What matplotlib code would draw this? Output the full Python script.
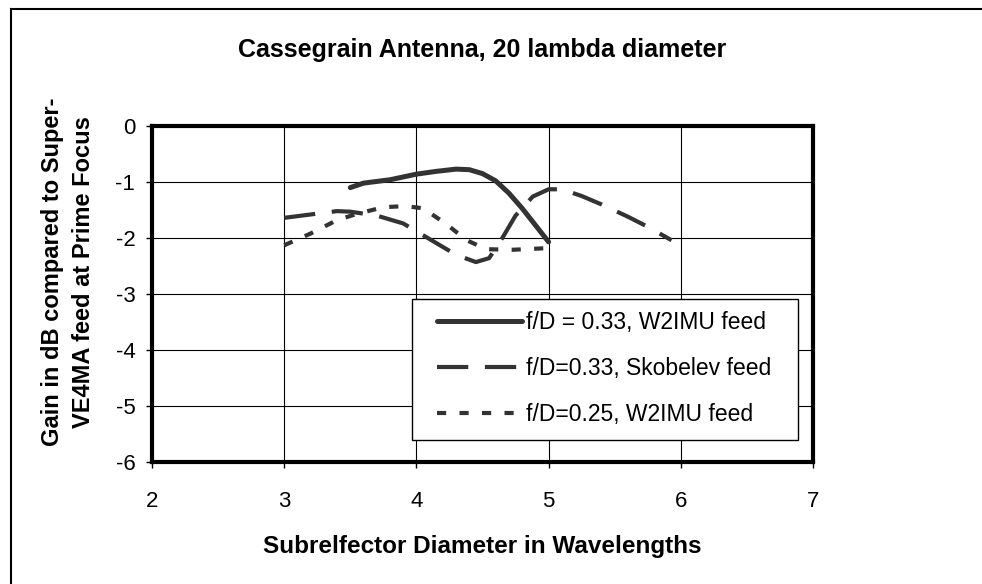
import matplotlib
matplotlib.use("Agg")
import matplotlib.pyplot as plt
from matplotlib.lines import Line2D
from matplotlib.patches import Rectangle

plt.rcParams['font.family'] = ['Liberation Sans', 'DejaVu Sans']
plt.rcParams['axes.unicode_minus'] = False

# f/D = 0.33, W2IMU feed
x_w2imu_33 = [3.5, 3.6, 3.7, 3.8, 4.0, 4.15, 4.3, 4.4, 4.5, 4.6, 4.7, 4.8, 5.0]
y_w2imu_33 = [-1.10, -1.02, -0.99, -0.96, -0.86, -0.81, -0.77, -0.78, -0.85, -0.98, -1.20, -1.47, -2.07]

# f/D = 0.33, Skobelev feed
x_skob = [3.0, 3.2, 3.4, 3.5, 3.7, 3.9, 4.1, 4.3, 4.45, 4.55, 4.65, 4.75, 4.88, 5.0, 5.1, 5.25, 5.4, 5.6, 5.75, 5.93]
y_skob = [-1.64, -1.58, -1.52, -1.53, -1.60, -1.74, -2.02, -2.30, -2.43, -2.36, -2.00, -1.60, -1.26, -1.13, -1.13, -1.25, -1.40, -1.62, -1.80, -2.04]

# f/D = 0.25, W2IMU feed
x_w2imu_25 = [3.0, 3.2, 3.4, 3.55, 3.75, 3.92, 4.05, 4.22, 4.38, 4.53, 4.73, 5.0]
y_w2imu_25 = [-2.13, -1.92, -1.68, -1.57, -1.45, -1.43, -1.47, -1.74, -2.04, -2.20, -2.21, -2.18]

labels = ["f/D = 0.33, W2IMU feed", "f/D=0.33, Skobelev feed", "f/D=0.25, W2IMU feed"]
x_ticks = [2, 3, 4, 5, 6, 7]
y_ticks = [0, -1, -2, -3, -4, -5, -6]

W, H = 982, 584


def main():
    fig = plt.figure(figsize=(W / 100, H / 100), dpi=100)
    ax = fig.add_axes([152 / W, 1 - 462 / H, (813 - 152) / W, (462 - 126) / H])

    c = '#333333'
    ax.plot(x_w2imu_33, y_w2imu_33, color=c, lw=3.6, solid_capstyle='round', label=labels[0])
    ax.plot(x_skob, y_skob, color=c, lw=3, dashes=(7.5, 4), label=labels[1])
    ax.plot(x_w2imu_25, y_w2imu_25, color=c, lw=3, dashes=(2.2, 3.2), label=labels[2])

    ax.set_xlim(2, 7)
    ax.set_ylim(-6, 0)
    ax.set_xticks(x_ticks)
    ax.set_yticks(y_ticks)
    ax.grid(True, color='black', lw=0.8)
    for s in ax.spines.values():
        s.set_linewidth(3)
        s.set_color('black')
    ax.tick_params(direction='out', length=4, width=1, labelsize=16)
    ax.tick_params(axis='x', pad=17)
    ax.tick_params(axis='y', pad=8)

    ax.set_xlabel("Subrelfector Diameter in Wavelengths", fontsize=17.5, fontweight='bold', va='center')
    ax.xaxis.set_label_coords(0.5, (462 - 547) / 336)
    ax.set_ylabel("Gain in dB compared to Super-\nVE4MA feed at Prime Focus", fontsize=17,
                  fontweight='bold', va='center', linespacing=1.45)
    ax.yaxis.set_label_coords((68 - 152) / 661, (462 - 272) / 336)
    fig.text(0.5 * (152 + 813) / W, 1 - 50 / H, "Cassegrain Antenna, 20 lambda diameter",
             ha='center', va='center', fontsize=18, fontweight='bold')

    # legend box
    ax.add_patch(Rectangle((412 / W, 1 - 440 / H), (798 - 412) / W, (440 - 299) / H,
                           transform=fig.transFigure, facecolor='white', edgecolor='black',
                           lw=1, zorder=4, clip_on=False))
    leg = ax.legend(loc='upper left', bbox_to_anchor=((437 - 152) / 661, (462 - 311) / 336),
                    fontsize=16.5, frameon=False, handlelength=3.7, borderpad=0,
                    labelspacing=1.0, handletextpad=0.2, borderaxespad=0)
    leg.set_zorder(5)

    # chart area border (left and top edges visible)
    fig.add_artist(Line2D([11 / W, 11 / W], [0, 1 - 9 / H], transform=fig.transFigure, color='black', lw=1.5))
    fig.add_artist(Line2D([11 / W, 1], [1 - 9 / H, 1 - 9 / H], transform=fig.transFigure, color='black', lw=1.5))

    fig.savefig("out.png", dpi=100)


if __name__ == '__main__':
    main()
